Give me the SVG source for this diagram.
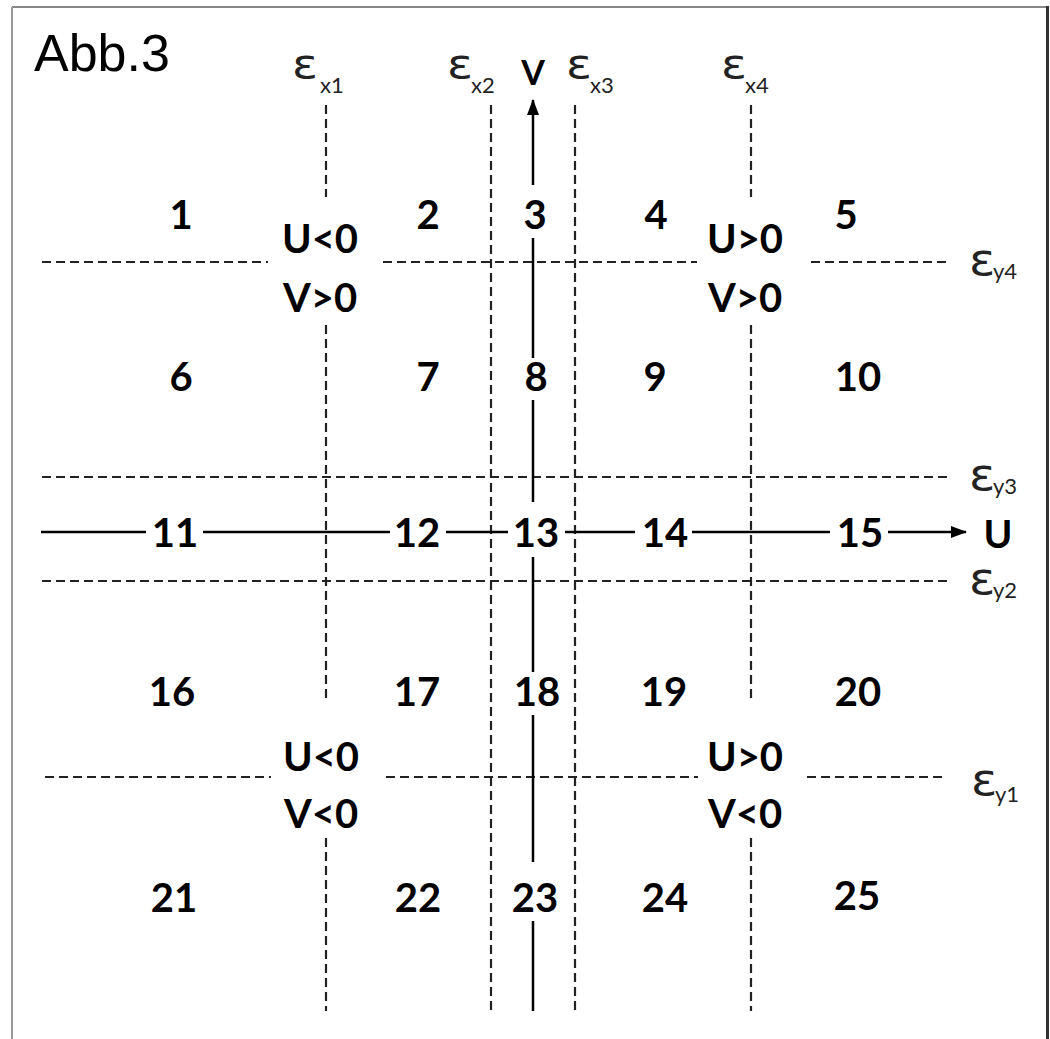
<svg xmlns="http://www.w3.org/2000/svg" width="1050" height="1039" viewBox="0 0 1050 1039">
<defs>
<style>
.dash{stroke:#222;stroke-width:2.2;stroke-dasharray:9 5;fill:none}
.axis{stroke:#000;stroke-width:2.5;fill:none}
.num{font-family:Lato,"Liberation Sans",sans-serif;font-weight:bold;font-size:40px;fill:#000;text-anchor:middle}
.cond{font-family:Lato,"Liberation Sans",sans-serif;font-weight:bold;font-size:40px;fill:#000;text-anchor:middle}
.eps{font-family:"DejaVu Sans",sans-serif;font-size:40px;fill:#222}
.epsy{font-family:"DejaVu Sans",sans-serif;font-size:45px;fill:#222}
.sub{font-family:Lato,"Liberation Sans",sans-serif;font-size:22px;fill:#222}
</style>
<marker id="arr" viewBox="0 0 16 12" refX="15" refY="6" markerWidth="16" markerHeight="12" markerUnits="userSpaceOnUse" orient="auto">
<path d="M0,0 L16,6 L0,12 z" fill="#000"/>
</marker>
</defs>
<rect width="1050" height="1039" fill="#fff"/>
<g id="frame">
<line x1="12" y1="7" x2="1048" y2="7" stroke="#888" stroke-width="2"/>
<line x1="12" y1="7" x2="12" y2="1039" stroke="#999" stroke-width="2"/>
<line x1="1047.5" y1="6" x2="1047.5" y2="1039" stroke="#333" stroke-width="3"/>
</g>
<text x="34" y="71" font-family="Liberation Sans,Arial,sans-serif" font-size="52" fill="#000">Abb.3</text>
<g id="grid">
<path class="dash" d="M326,105V197 M326,325V703 M326,838V1011"/>
<path class="dash" d="M491,105V1011"/>
<path class="dash" d="M575,105V1011"/>
<path class="dash" d="M751,105V197 M751,325V703 M751,838V1011"/>
<path class="dash" d="M42,262H268 M383,262H697 M811,262H947"/>
<path class="dash" d="M42,477H947"/>
<path class="dash" d="M42,581H947"/>
<path class="dash" d="M45,777H271 M386,777H698 M807,777H947"/>
</g>
<g id="connectors">
<line class="axis" x1="533" y1="185" x2="533" y2="100" marker-end="url(#arr)"/>
<path class="axis" d="M533,238V358 M533,400V502 M533,557V672 M533,715V862 M533,921V1011"/>
<path class="axis" d="M41,532H146 M203,532H390 M446,532H508 M565,532H635 M692,532H830"/>
<line class="axis" x1="888" y1="532" x2="966" y2="532" marker-end="url(#arr)"/>
</g>
<g id="axis-labels">
<text x="533" y="85" font-family="Lato,Liberation Sans,sans-serif" font-weight="bold" font-size="34" text-anchor="middle">V</text>
<text x="998" y="548" font-family="Lato,Liberation Sans,sans-serif" font-weight="bold" font-size="39" text-anchor="middle">U</text>
</g>
<g id="eps-x1"><text class="eps" transform="translate(292,78) scale(1.2,1)">ε</text><text class="sub" x="320" y="93">x1</text></g>
<g id="eps-x2"><text class="eps" transform="translate(447,78) scale(1.2,1)">ε</text><text class="sub" x="471" y="93">x2</text></g>
<g id="eps-x3"><text class="eps" transform="translate(566,78) scale(1.2,1)">ε</text><text class="sub" x="590" y="93">x3</text></g>
<g id="eps-x4"><text class="eps" transform="translate(721,78) scale(1.2,1)">ε</text><text class="sub" x="745" y="93">x4</text></g>
<g id="eps-y4"><text class="epsy" transform="translate(969,275) scale(1.08,1)">ε</text><text class="sub" x="993" y="279">y4</text></g>
<g id="eps-y3"><text class="epsy" transform="translate(969,490) scale(1.08,1)">ε</text><text class="sub" x="993" y="494">y3</text></g>
<g id="eps-y2"><text class="epsy" transform="translate(969,594) scale(1.08,1)">ε</text><text class="sub" x="993" y="598">y2</text></g>
<g id="eps-y1"><text class="epsy" transform="translate(971,795) scale(1.08,1)">ε</text><text class="sub" x="995" y="802">y1</text></g>
<g id="cond-ul"><text class="cond" x="320" y="253">U&lt;0</text><text class="cond" x="320" y="312">V&gt;0</text></g>
<g id="cond-ur"><text class="cond" x="745" y="253">U&gt;0</text><text class="cond" x="745" y="312">V&gt;0</text></g>
<g id="cond-ll"><text class="cond" x="321" y="771">U&lt;0</text><text class="cond" x="321" y="828">V&lt;0</text></g>
<g id="cond-lr"><text class="cond" x="745" y="771">U&gt;0</text><text class="cond" x="745" y="828">V&lt;0</text></g>
<g id="r1"><text class="num" x="181" y="229">1</text></g>
<g id="r2"><text class="num" x="428" y="229">2</text></g>
<g id="r3"><text class="num" x="535" y="229">3</text></g>
<g id="r4"><text class="num" x="656" y="229">4</text></g>
<g id="r5"><text class="num" x="846" y="229">5</text></g>
<g id="r6"><text class="num" x="181" y="391">6</text></g>
<g id="r7"><text class="num" x="428" y="391">7</text></g>
<g id="r8"><text class="num" x="536" y="391">8</text></g>
<g id="r9"><text class="num" x="655" y="391">9</text></g>
<g id="r10"><text class="num" x="858" y="391">10</text></g>
<g id="r11"><text class="num" x="175" y="547">11</text></g>
<g id="r12"><text class="num" x="417" y="547">12</text></g>
<g id="r13"><text class="num" x="536" y="547">13</text></g>
<g id="r14"><text class="num" x="665" y="547">14</text></g>
<g id="r15"><text class="num" x="860" y="547">15</text></g>
<g id="r16"><text class="num" x="172" y="706">16</text></g>
<g id="r17"><text class="num" x="417" y="706">17</text></g>
<g id="r18"><text class="num" x="537" y="706">18</text></g>
<g id="r19"><text class="num" x="664" y="706">19</text></g>
<g id="r20"><text class="num" x="858" y="706">20</text></g>
<g id="r21"><text class="num" x="174" y="912">21</text></g>
<g id="r22"><text class="num" x="418" y="912">22</text></g>
<g id="r23"><text class="num" x="535" y="912">23</text></g>
<g id="r24"><text class="num" x="665" y="912">24</text></g>
<g id="r25"><text class="num" x="857" y="910">25</text></g>
</svg>
